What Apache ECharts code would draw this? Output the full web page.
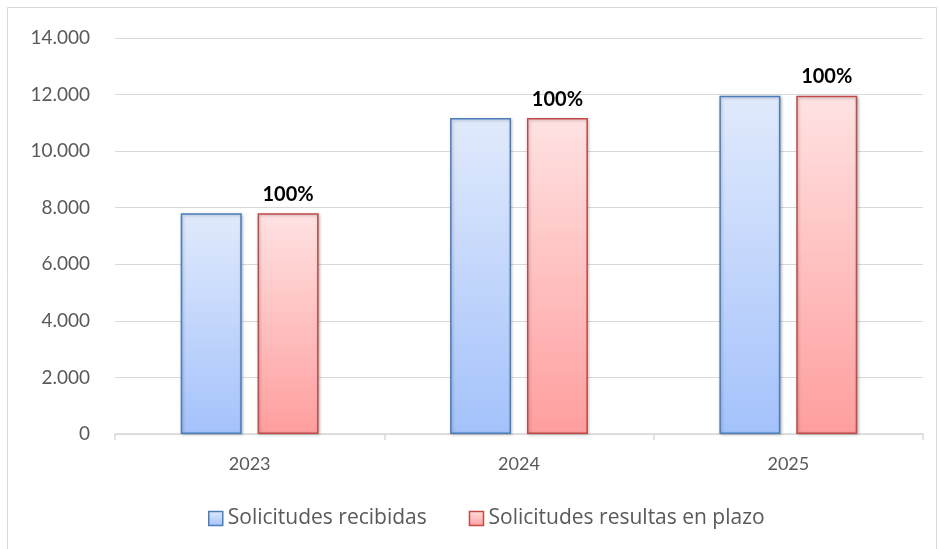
<!DOCTYPE html>
<html><head><meta charset="utf-8">
<script src="https://cdn.jsdelivr.net/npm/echarts@6/dist/echarts.min.js"></script>
<style>html,body{margin:0;padding:0;background:#fff}#c{width:941px;height:549px}</style>
</head><body><div id="c"></div>
<script>
const categories = ['2023', '2024', '2025'];
const recibidas = [7800, 11170, 11960];
const resueltas = [7800, 11170, 11960];
const pctLabels = ['100%', '100%', '100%'];
const seriesNames = ['Solicitudes recibidas', 'Solicitudes resultas en plazo'];

const FONT = 'Lato, "Liberation Sans", sans-serif';
const LFONT = '"Open Sans", Lato, sans-serif';
const blueGrad = new echarts.graphic.LinearGradient(0, 0, 0, 1, [{offset: 0, color: '#e1eafc'}, {offset: 1, color: '#a4c2fb'}]);
const redGrad = new echarts.graphic.LinearGradient(0, 0, 0, 1, [{offset: 0, color: '#ffe2e2'}, {offset: 1, color: '#ff9e9e'}]);

const chart = echarts.init(document.getElementById('c'));
chart.setOption({
  animation: false,
  graphic: [{type: 'rect', shape: {x: 7.5, y: 7.5, width: 929, height: 560}, style: {fill: 'none', stroke: '#d9d9d9', lineWidth: 1}}],
  grid: {left: 115, right: 18, top: 38, bottom: 115},
  legend: {
    bottom: 15, left: 203, itemWidth: 14, itemHeight: 14, itemGap: 42,
    textStyle: {fontFamily: LFONT, fontSize: 21, color: '#595959'},
    data: [
      {name: seriesNames[0], icon: 'rect', itemStyle: {color: blueGrad, borderColor: '#4a7ebb', borderWidth: 1.5}},
      {name: seriesNames[1], icon: 'rect', itemStyle: {color: redGrad, borderColor: '#be4b48', borderWidth: 1.5}}
    ]
  },
  xAxis: {
    type: 'category', data: categories,
    axisLine: {lineStyle: {color: '#d9d9d9', width: 1.5}},
    axisTick: {show: true, alignWithLabel: false, length: 6, lineStyle: {color: '#d9d9d9', width: 1.5}},
    axisLabel: {fontFamily: FONT, fontSize: 18, color: '#595959', margin: 21}
  },
  yAxis: {
    type: 'value', min: 0, max: 14000, interval: 2000,
    axisLine: {show: false}, axisTick: {show: false},
    splitLine: {lineStyle: {color: '#d9d9d9', width: 1.2}},
    axisLabel: {fontFamily: FONT, fontSize: 19, color: '#595959', margin: 25,
      formatter: v => v.toString().replace(/\B(?=(\d{3})+(?!\d))/g, '.')}
  },
  series: [
    {name: seriesNames[0], type: 'bar', data: recibidas, barWidth: 61, barGap: '26%',
      itemStyle: {color: blueGrad, borderColor: '#4a7ebb', borderWidth: 1.5, shadowColor: 'rgba(0,0,0,0.25)', shadowBlur: 3, shadowOffsetX: 1, shadowOffsetY: 1}},
    {name: seriesNames[1], type: 'bar', data: resueltas, barWidth: 61,
      itemStyle: {color: redGrad, borderColor: '#be4b48', borderWidth: 1.5, shadowColor: 'rgba(0,0,0,0.25)', shadowBlur: 3, shadowOffsetX: 1, shadowOffsetY: 1},
      label: {show: true, position: 'top', distance: 9, fontFamily: FONT, fontSize: 20, fontWeight: 'bold', color: '#000',
        formatter: p => pctLabels[p.dataIndex]}}
  ]
});
</script></body></html>
